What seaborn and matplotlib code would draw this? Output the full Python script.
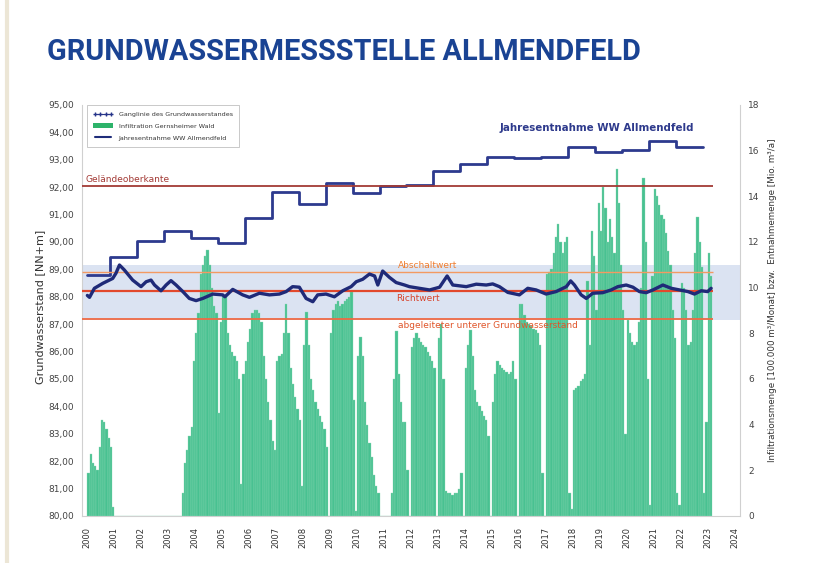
import numpy as np
import pandas as pd
import matplotlib.pyplot as plt
import seaborn as sns
from matplotlib.lines import Line2D
from matplotlib.patches import Patch
from matplotlib.ticker import FuncFormatter

sns.set_style("white")
plt.rcParams['font.family'] = ['DejaVu Sans']

# monthly infiltration (100.000 m3/Monat), Jan..Dec
infil_2000 = [1.9, 2.7, 2.3, 2.2, 2.0, 3.0, 4.2, 4.1, 3.8, 3.4, 3.0, 0.4]
infil_2001 = [0] * 12
infil_2002 = [0] * 12
infil_2003 = [0, 0, 0, 0, 0, 0, 1.0, 2.3, 2.9, 3.5, 3.9, 6.8]
infil_2004 = [8.0, 8.9, 10.6, 11.0, 11.4, 11.65, 11.0, 10.0, 9.2, 8.9, 4.5, 8.5]
infil_2005 = [9.7, 9.6, 8.0, 7.5, 7.2, 7.0, 6.8, 6.0, 1.4, 6.2, 6.8, 7.6]
infil_2006 = [8.2, 8.9, 9.0, 9.0, 8.9, 8.5, 7.0, 6.0, 5.0, 4.2, 3.3, 2.9]
infil_2007 = [6.8, 7.0, 7.1, 8.0, 9.3, 8.0, 6.5, 5.8, 5.2, 4.7, 4.2, 1.3]
infil_2008 = [7.5, 8.95, 7.5, 6.0, 5.5, 5.0, 4.7, 4.4, 4.1, 3.8, 3.0, 0.0]
infil_2009 = [8.0, 9.0, 9.3, 9.4, 9.2, 9.3, 9.4, 9.5, 9.6, 9.8, 5.1, 0.2]
infil_2010 = [7.0, 7.85, 7.0, 5.0, 4.0, 3.2, 2.6, 1.8, 1.3, 1.0, 0.0, 0.0]
infil_2011 = [0, 0, 0, 1.0, 6.0, 8.1, 6.2, 5.0, 4.1, 4.1, 2.0, 0.0]
infil_2012 = [7.4, 7.8, 8.0, 7.8, 7.6, 7.5, 7.4, 7.2, 7.0, 6.8, 6.5, 0.0]
infil_2013 = [7.8, 8.4, 6.0, 1.1, 1.0, 1.0, 0.9, 1.0, 1.0, 1.2, 1.9, 0.0]
infil_2014 = [6.5, 7.5, 8.15, 7.0, 5.5, 5.0, 4.8, 4.6, 4.4, 4.2, 3.5, 0.0]
infil_2015 = [5.0, 6.2, 6.8, 6.6, 6.5, 6.4, 6.3, 6.2, 6.3, 6.8, 6.0, 0.0]
infil_2016 = [9.3, 9.3, 8.8, 8.5, 8.4, 8.3, 8.2, 8.15, 8.0, 7.5, 1.9, 0.0]
infil_2017 = [10.6, 10.7, 10.8, 11.5, 12.2, 12.8, 12.0, 11.5, 12.0, 12.2, 1.0, 0.3]
infil_2018 = [5.5, 5.6, 5.7, 5.9, 6.0, 6.2, 10.3, 7.5, 12.5, 11.4, 9.0, 13.7]
infil_2019 = [12.5, 14.4, 13.5, 12.0, 13.0, 12.2, 11.5, 15.2, 13.7, 11.0, 9.0, 3.6]
infil_2020 = [8.6, 8.0, 7.6, 7.5, 7.6, 8.5, 10.0, 14.8, 12.0, 6.0, 0.5, 10.5]
infil_2021 = [14.3, 14.0, 13.6, 13.2, 13.0, 12.4, 11.6, 11.0, 9.0, 7.8, 1.0, 0.5]
infil_2022 = [10.2, 10.0, 9.0, 7.5, 7.6, 9.0, 11.5, 13.1, 12.0, 10.9, 1.0, 4.1]
infil_2023 = [11.5, 10.5]

# yearly extraction (Mio. m3/a), hydrological years (Nov-Oct)
entnahme_jahr = list(range(2000, 2023))
entnahme = [10.55, 11.36, 12.06, 12.48, 12.16, 11.97, 13.04, 14.2, 13.67, 14.57,
            14.13, 14.45, 14.5, 15.12, 15.4, 15.74, 15.7, 15.74, 16.15, 15.94,
            16.03, 16.43, 16.16]

# groundwater level (NN+m)
gw_zeit = [2000.00, 2000.08, 2000.26, 2000.57, 2000.94, 2001.06, 2001.19, 2001.37,
           2001.68, 2001.99, 2002.18, 2002.36, 2002.49, 2002.73, 2002.92, 2003.10,
           2003.29, 2003.54, 2003.78, 2004.03, 2004.28, 2004.65, 2005.02, 2005.10,
           2005.39, 2005.76, 2006.01, 2006.38, 2006.75, 2007.12, 2007.37, 2007.61,
           2007.86, 2008.11, 2008.36, 2008.54, 2008.85, 2009.16, 2009.47, 2009.78,
           2009.97, 2010.21, 2010.46, 2010.65, 2010.77, 2010.95, 2011.20, 2011.45,
           2011.76, 2011.94, 2012.31, 2012.69, 2013.06, 2013.34, 2013.55, 2014.05,
           2014.42, 2014.79, 2015.03, 2015.28, 2015.59, 2016.02, 2016.33, 2016.64,
           2017.01, 2017.38, 2017.76, 2017.92, 2018.06, 2018.31, 2018.50, 2018.74,
           2019.11, 2019.42, 2019.67, 2019.98, 2020.23, 2020.47, 2020.72, 2020.97,
           2021.34, 2021.65, 2021.96, 2022.27, 2022.51, 2022.76, 2023.00, 2023.13]
gw_stand = [88.05, 87.98, 88.31, 88.49, 88.67, 88.86, 89.16, 88.98,
            88.61, 88.37, 88.55, 88.61, 88.43, 88.22, 88.43, 88.59,
            88.43, 88.19, 87.94, 87.86, 87.94, 88.10, 88.07, 88.00,
            88.27, 88.07, 87.98, 88.13, 88.07, 88.10, 88.19, 88.37,
            88.35, 87.94, 87.82, 88.07, 88.10, 88.00, 88.22, 88.37,
            88.55, 88.64, 88.83, 88.76, 88.43, 88.94, 88.71, 88.52,
            88.43, 88.37, 88.31, 88.25, 88.35, 88.76, 88.43, 88.37,
            88.46, 88.43, 88.47, 88.37, 88.16, 88.07, 88.31, 88.25,
            88.10, 88.19, 88.37, 88.58, 88.43, 88.07, 87.94, 88.13,
            88.15, 88.25, 88.37, 88.43, 88.35, 88.19, 88.15, 88.25,
            88.43, 88.31, 88.25, 88.19, 88.10, 88.22, 88.19, 88.31]

gelaendeoberkante = 92.05
abschaltwert = 88.9
richtwert = 88.2
unterer_gw = 87.18
band = (87.15, 89.15)

years = list(range(2000, 2025))

infil = (infil_2000 + infil_2001 + infil_2002 + infil_2003 + infil_2004 + infil_2005
         + infil_2006 + infil_2007 + infil_2008 + infil_2009 + infil_2010 + infil_2011
         + infil_2012 + infil_2013 + infil_2014 + infil_2015 + infil_2016 + infil_2017
         + infil_2018 + infil_2019 + infil_2020 + infil_2021 + infil_2022 + infil_2023)
df_inf = pd.DataFrame({'monat': np.arange(len(infil)), 'menge': infil})
df_inf['t'] = 2000 + (df_inf['monat'] + 0.5) / 12

step_x = [max(2000.0, j - 1 + 10 / 12) for j in entnahme_jahr] + [entnahme_jahr[-1] + 10 / 12]
step_y = entnahme + [entnahme[-1]]

fig = plt.figure(figsize=(8.14, 5.63), dpi=100)
axL = fig.add_axes([0.1007, 0.0835, 0.8084, 0.730])
axR = axL.twinx()
axT = axL.twinx()

x_lim = (1999.8, 2024.2)
for a in (axL, axR, axT):
    a.set_xlim(*x_lim)
axL.set_ylim(80, 95)
axT.set_ylim(80, 95)
axR.set_ylim(0, 18)

# band (bottom)
axL.axhspan(band[0], band[1], color='#d3ddef', alpha=0.8, lw=0)

# infiltration bars + extraction steps (right scale)
axR.bar(df_inf['t'], df_inf['menge'], width=1 / 12, color='#48c191',
        edgecolor='#8fd9b8', lw=0.25)
sns.lineplot(x=step_x, y=step_y, ax=axR, drawstyle='steps-post', color='#2d3a8e',
             lw=2.0, sort=False)
axR.text(2018.9, 17.0, 'Jahresentnahme WW Allmendfeld', ha='center', va='center',
         fontsize=7.4, fontweight='bold', color='#2e3a8c')

# reference lines + groundwater curve (left scale, top layer)
x_end = 2023.2
axT.hlines(gelaendeoberkante, x_lim[0], x_end, color='#a33a35', lw=1.3)
axT.hlines(abschaltwert, x_lim[0], x_end, color='#f39a62', lw=1.0)
axT.hlines(richtwert, x_lim[0], x_end, color='#e2492d', lw=1.6)
axT.hlines(unterer_gw, x_lim[0], x_end, color='#ee6a45', lw=1.3)
sns.lineplot(x=gw_zeit, y=gw_stand, ax=axT, color='#1f2a78', lw=2.4, sort=False)

axT.text(1999.93, 92.12, 'Geländeoberkante', color='#a33a35', fontsize=6.5, va='bottom')
axT.text(2011.5, 88.97, 'Abschaltwert', color='#f07d2e', fontsize=6.5, va='bottom')
axT.text(2011.45, 88.1, 'Richtwert', color='#d8432b', fontsize=6.5, va='top')
axT.text(2011.5, 87.1, 'abgeleiteter unterer Grundwasserstand', color='#e0552a',
         fontsize=6.5, va='top')

# axes cosmetics
axL.yaxis.tick_left()
axR.yaxis.tick_right()
axT.set_yticks([])
axT.set_ylabel('')
axL.set_yticks(range(80, 96))
axL.yaxis.set_major_formatter(FuncFormatter(lambda v, p: f"{v:.2f}".replace('.', ',')))
axR.set_yticks(range(0, 19, 2))
axL.set_xticks(years)
axL.set_xticklabels([str(y) for y in years], rotation=90)
axL.tick_params(axis='x', labelsize=6, colors='#333333', length=0, pad=8)
axL.tick_params(axis='y', labelsize=6.5, colors='#444444', length=0, pad=6)
axR.tick_params(axis='y', labelsize=6.5, colors='#444444', length=0, pad=6)
axR.tick_params(axis='x', length=0)
for a in (axL, axR, axT):
    for s in a.spines.values():
        s.set_visible(False)
axL.spines['left'].set_visible(True)
axL.spines['left'].set_color('#d0d0d0')
axL.spines['bottom'].set_visible(True)
axL.spines['bottom'].set_color('#d0d0d0')
axR.spines['right'].set_visible(True)
axR.spines['right'].set_color('#d0d0d0')

# legend
handles = [
    Line2D([], [], color='#27358a', lw=0.8, marker='+', markersize=3,
           label='Ganglinie des Grundwasserstandes'),
    Patch(facecolor='#2db36a', edgecolor='none', label='Infiltration Gernsheimer Wald'),
    Line2D([], [], color='#1f2d7a', lw=1.5, label='Jahresentnahme WW Allmendfeld'),
]
leg = axT.legend(handles=handles, loc='upper left', bbox_to_anchor=(0.007, 1.0),
                 borderaxespad=0, fontsize=4.6, frameon=True, fancybox=False,
                 handlelength=3.2, numpoints=4, labelspacing=1.0, borderpad=1.0,
                 edgecolor='#b0b0b0')
leg.get_frame().set_linewidth(0.6)
for t in leg.get_texts():
    t.set_color('#333333')

# labels and title
fig.text(0.049, 0.455, 'Grundwasserstand [NN+m]', rotation=90, ha='center',
         va='center', fontsize=8, color='#333333')
fig.text(0.9496, 0.467,
         'Infiltrationsmenge [100.000 m³/Monat] bzw.  Entnahmemenge [Mio. m³/a]',
         rotation=90, ha='center', va='center', fontsize=6.3, color='#333333')
fig.text(0.0577, 0.8934, 'GRUNDWASSERMESSSTELLE ALLMENDFELD', fontsize=20.8,
         fontweight='bold', color='#1a4393', va='baseline', family=['Roboto', 'DejaVu Sans'])
fig.add_artist(Line2D([0.009, 0.009], [0, 1], transform=fig.transFigure,
                      color='#ece6d6', lw=3))

fig.savefig('out.png', dpi=100)
